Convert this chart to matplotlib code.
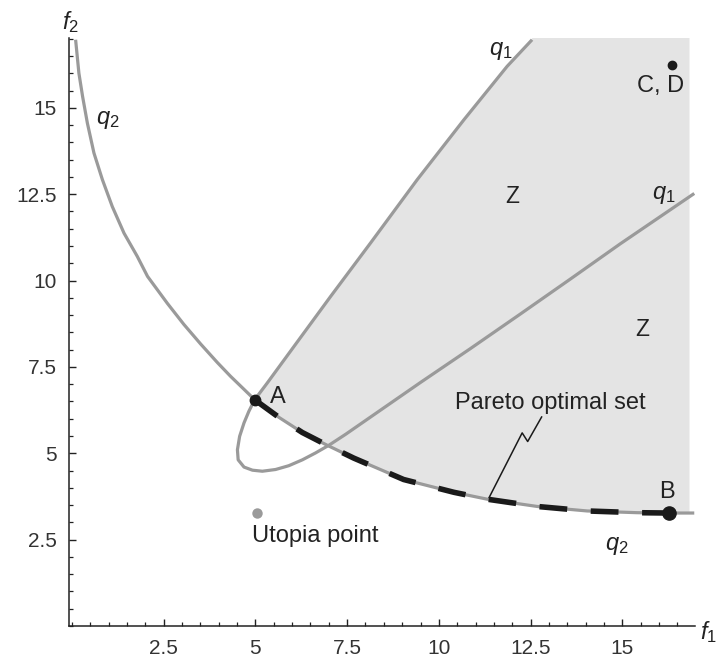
import numpy as np
import matplotlib
matplotlib.use("Agg")
import matplotlib.pyplot as plt
from matplotlib.ticker import MultipleLocator

plt.rcParams["font.family"] = ["Liberation Sans", "DejaVu Sans"]
plt.rcParams["mathtext.fontset"] = "custom"
plt.rcParams["mathtext.rm"] = "Liberation Sans"
plt.rcParams["mathtext.it"] = "Liberation Sans:italic"
plt.rcParams["lines.scale_dashes"] = False

# curve q2 (f1, f2)
q2_f1 = [0.10, 0.19, 0.29, 0.42, 0.60, 0.83, 1.10, 1.42, 1.78, 2.06, 2.60,
         3.05, 3.51, 3.96, 4.32, 4.69, 4.98, 5.64, 6.28, 6.96, 7.68, 9.04,
         10.41, 11.32, 12.68, 14.04, 15.40, 16.26, 16.96]
q2_f2 = [16.97, 16.00, 15.33, 14.56, 13.69, 12.92, 12.14, 11.37, 10.70, 10.12, 9.34,
         8.73, 8.16, 7.63, 7.23, 6.85, 6.55, 6.04, 5.60, 5.23, 4.86, 4.24,
         3.87, 3.67, 3.46, 3.33, 3.28, 3.27, 3.27]

# curve q1: upper branch from the top down to A, round the loop, lower branch out
q1_f1 = [12.54, 11.86, 10.68, 9.41, 8.14, 7.05, 6.05, 5.32, 4.98,
         4.82, 4.69, 4.57, 4.51, 4.53, 4.69, 4.92, 5.19, 5.55, 5.91, 6.28, 6.64,
         7.00, 7.46, 8.14, 9.50, 10.86, 12.22, 13.58, 14.94, 16.96]
q1_f2 = [16.97, 16.20, 14.65, 12.92, 11.09, 9.54, 8.09, 7.03, 6.55,
         6.21, 5.88, 5.49, 5.10, 4.81, 4.60, 4.51, 4.48, 4.53, 4.64, 4.81, 5.01,
         5.23, 5.55, 6.05, 7.05, 8.03, 9.03, 10.04, 11.06, 12.52]
Q1_UPPER = 9          # first 9 points run from the top down to A

A = (4.98, 6.55)
B = (16.26, 3.27)
CD = (16.35, 16.24)
UTOPIA = (5.03, 3.27)
Z_RIGHT = 16.83       # right edge of the shaded region

LEAD_X = [12.80, 12.42, 12.27, 11.37]
LEAD_Y = [6.05, 5.34, 5.59, 3.72]

TICKS = [2.5, 5, 7.5, 10, 12.5, 15]
TICK_LABELS = ["2.5", "5", "7.5", "10", "12.5", "15"]

GREY, INK, FILL = "#9a9a9a", "#1a1a1a", "#e4e4e4"

fig = plt.figure(figsize=(7.2, 6.63), dpi=100)
ax = fig.add_axes([69 / 720, 37 / 663, 626 / 720, 588 / 663])
ax.set_xlim(-0.08, 16.98)
ax.set_ylim(0, 17.02)

# shaded feasible region Z
q2x, q2y = np.array(q2_f1), np.array(q2_f2)
keep = (q2x >= A[0]) & (q2x < Z_RIGHT)
top = ax.get_ylim()[1]
px = list(q2x[keep]) + [Z_RIGHT, Z_RIGHT, q1_f1[0]] + q1_f1[:Q1_UPPER]
py = list(q2y[keep]) + [q2y[keep][-1], top, top] + q1_f2[:Q1_UPPER]
ax.fill(px, py, color=FILL, lw=0, zorder=1)

ax.plot(q2_f1, q2_f2, color=GREY, lw=2.3, solid_capstyle="butt", zorder=2)
ax.plot(q1_f1, q1_f2, color=GREY, lw=2.3, solid_capstyle="butt", zorder=2)

# Pareto optimal set, A to B along q2
par = (q2x >= A[0]) & (q2x <= B[0])
ax.plot(q2x[par], q2y[par], color=INK, lw=4.0, ls=(0, (20, 17)),
        dash_capstyle="butt", zorder=3)

ax.plot(*A, "o", color=INK, ms=7.5, zorder=4)
ax.plot(*B, "o", color=INK, ms=9.5, zorder=4)
ax.plot(*CD, "o", color=INK, ms=6, zorder=4)
ax.plot(*UTOPIA, "o", color=GREY, ms=7.5, mec="none", zorder=4)
ax.plot(LEAD_X, LEAD_Y, color=INK, lw=1.1, zorder=4)

lab = dict(fontsize=17, color="#222", zorder=5, ha="center", va="center")
ax.text(0.97, 14.65, "$q_2$", **lab)
ax.text(14.86, 2.31, "$q_2$", **lab)
ax.text(11.68, 16.63, "$q_1$", **lab)
ax.text(16.12, 12.48, "$q_1$", **lab)
ax.text(12.0, 12.43, "Z", **{**lab, "fontsize": 16.5})
ax.text(15.54, 8.58, "Z", **{**lab, "fontsize": 16.5})
ax.text(5.60, 6.62, "A", **lab)
ax.text(16.22, 3.87, "B", **lab)
ax.text(16.05, 15.62, "C, D", **lab)
ax.text(13.04, 6.46, "Pareto optimal set", **lab)
ax.text(4.90, 2.60, "Utopia point", **{**lab, "ha": "left"})

fig.text(70 / 720, 1 - 22 / 663, "$f_2$", fontsize=17, ha="center", va="center", color="#222")
fig.text(708 / 720, 1 - 632 / 663, "$f_1$", fontsize=17, ha="center", va="center", color="#222")

for s in ("top", "right"):
    ax.spines[s].set_visible(False)
for s in ("left", "bottom"):
    ax.spines[s].set_color("#222")
    ax.spines[s].set_linewidth(1.1)

ax.set_xticks(TICKS)
ax.set_xticklabels(TICK_LABELS)
ax.set_yticks(TICKS)
ax.set_yticklabels(TICK_LABELS)
ax.xaxis.set_minor_locator(MultipleLocator(0.5))
ax.yaxis.set_minor_locator(MultipleLocator(0.5))
ax.tick_params(which="major", direction="in", length=5, width=1, color="#222",
               labelsize=15, labelcolor="#333", pad=9)
ax.tick_params(which="minor", direction="in", length=3, width=0.9, color="#222")

fig.savefig("out.png", dpi=100)
